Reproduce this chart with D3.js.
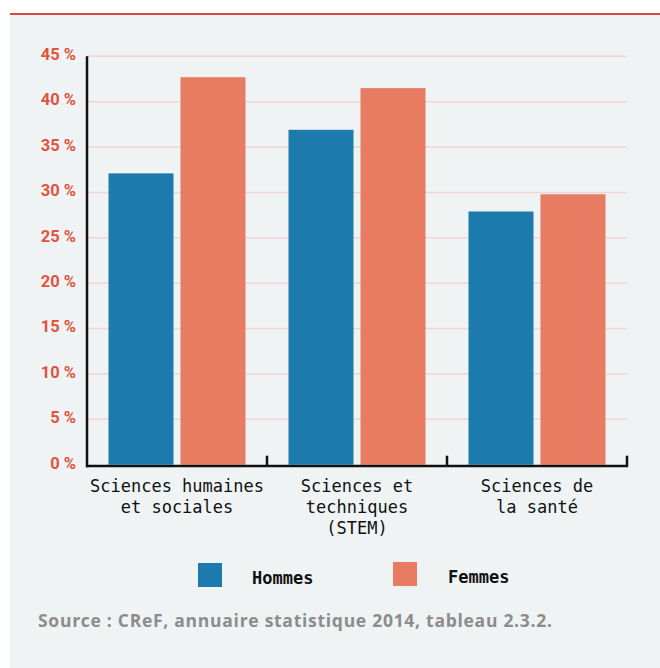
<!DOCTYPE html>
<html>
<head>
<meta charset="utf-8">
<script src="https://cdn.jsdelivr.net/npm/d3@7"></script>
<style>
  html, body { margin: 0; padding: 0; background: #ffffff; }
  svg { display: block; }
</style>
</head>
<body>
<svg id="chart" width="660" height="668"></svg>
<script>
// Share of graduates by field and sex (CReF 2014, table 2.3.2)
const categories = [
  ["Sciences humaines", "et sociales"],
  ["Sciences et", "techniques", "(STEM)"],
  ["Sciences de", "la santé"]
];
const seriesNames = ["Hommes", "Femmes"];
const hommes = [32.1, 36.9, 27.9];
const femmes = [42.7, 41.5, 29.8];
const yTicks = [0, 5, 10, 15, 20, 25, 30, 35, 40, 45];
const sourceText = "Source : CReF, annuaire statistique 2014, tableau 2.3.2.";

const colors = { Hommes: "#1c7aad", Femmes: "#e87c63" };
const values = { Hommes: hommes, Femmes: femmes };

const svg = d3.select("#chart");

// panel background and top rule
svg.append("rect").attr("x", 10).attr("y", 13).attr("width", 650).attr("height", 655).attr("fill", "#eff3f4");
svg.append("rect").attr("x", 10).attr("y", 13).attr("width", 650).attr("height", 2).attr("fill", "#d9493c");

const plotLeft = 87, plotRight = 627, plotTop = 56.3, plotBottom = 464.7;

const x0 = d3.scaleBand()
  .domain(d3.range(categories.length))
  .range([plotLeft, plotRight])
  .paddingInner(0).paddingOuter(0);

const x1 = d3.scaleBand()
  .domain(seriesNames)
  .range([0, x0.bandwidth()])
  .paddingInner(0.0972)
  .paddingOuter(0.2986);

const y = d3.scaleLinear().domain([0, 45]).range([plotBottom, plotTop]);

// gridlines
svg.append("g").selectAll("line").data(yTicks.filter(t => t > 0)).join("line")
  .attr("x1", plotLeft).attr("x2", plotRight)
  .attr("y1", d => y(d)).attr("y2", d => y(d))
  .attr("stroke", "#f3d3d3").attr("stroke-width", 1.5);

// y axis labels
const yAxis = d3.axisLeft(y).tickValues(yTicks).tickSize(0).tickPadding(0)
  .tickFormat(d => d + " %");
const gy = svg.append("g").attr("transform", `translate(${plotLeft - 11},0)`).call(yAxis);
gy.select(".domain").remove();
gy.selectAll("text")
  .attr("fill", "#e0533f")
  .attr("font-family", "Roboto, 'Open Sans', sans-serif")
  .attr("font-weight", "bold")
  .attr("font-size", 16.5)
  .attr("dy", "0.2em");

// bars
const groups = svg.append("g").selectAll("g").data(categories.map((c, i) => i)).join("g")
  .attr("transform", i => `translate(${x0(i)},0)`);
groups.selectAll("rect")
  .data(i => seriesNames.map(s => ({ s, v: values[s][i] })))
  .join("rect")
  .attr("x", d => x1(d.s))
  .attr("width", x1.bandwidth())
  .attr("y", d => y(d.v))
  .attr("height", d => y(0) - y(d.v))
  .attr("fill", d => colors[d.s]);

// axis lines
svg.append("line").attr("x1", plotLeft).attr("x2", plotLeft).attr("y1", plotTop).attr("y2", plotBottom + 2.5)
  .attr("stroke", "#111").attr("stroke-width", 2.5);
svg.append("line").attr("x1", plotLeft - 1).attr("x2", plotRight + 1).attr("y1", plotBottom + 1.3).attr("y2", plotBottom + 1.3)
  .attr("stroke", "#111").attr("stroke-width", 2.5);
// group separator ticks
svg.append("g").selectAll("line").data(categories.map((c, i) => i)).join("line")
  .attr("x1", i => x0(i) + x0.bandwidth()).attr("x2", i => x0(i) + x0.bandwidth())
  .attr("y1", plotBottom - 9).attr("y2", plotBottom + 2)
  .attr("stroke", "#111").attr("stroke-width", 2.5);

// category labels
const catText = svg.append("g").selectAll("text").data(categories).join("text")
  .attr("x", (d, i) => x0(i) + x0.bandwidth() / 2)
  .attr("y", 492)
  .attr("text-anchor", "middle")
  .attr("font-family", "'DejaVu Sans Mono', monospace")
  .attr("font-size", 17)
  .attr("fill", "#111");
catText.selectAll("tspan").data(d => d).join("tspan")
  .attr("x", function () { return this.parentNode.getAttribute("x"); })
  .attr("dy", (d, i) => i === 0 ? 0 : 21)
  .text(d => d);

// legend
const legendPos = [{ sx: 198, sy: 563, tx: 252, ty: 584 }, { sx: 393, sy: 562, tx: 448, ty: 583 }];
const legend = svg.append("g").selectAll("g").data(seriesNames).join("g");
legend.append("rect")
  .attr("x", (d, i) => legendPos[i].sx).attr("y", (d, i) => legendPos[i].sy)
  .attr("width", 24).attr("height", 24)
  .attr("fill", d => colors[d]);
legend.append("text")
  .attr("x", (d, i) => legendPos[i].tx).attr("y", (d, i) => legendPos[i].ty)
  .attr("font-family", "'DejaVu Sans Mono', monospace")
  .attr("font-weight", "bold")
  .attr("font-size", 17)
  .attr("fill", "#111")
  .text(d => d);

// source note
svg.append("text")
  .attr("x", 38).attr("y", 627)
  .attr("font-family", "'Open Sans', Lato, sans-serif")
  .attr("font-weight", "bold")
  .attr("font-size", 17.5)
  .attr("textLength", 514)
  .attr("lengthAdjust", "spacing")
  .attr("fill", "#8c8c8c")
  .text(sourceText);
</script>
</body>
</html>
